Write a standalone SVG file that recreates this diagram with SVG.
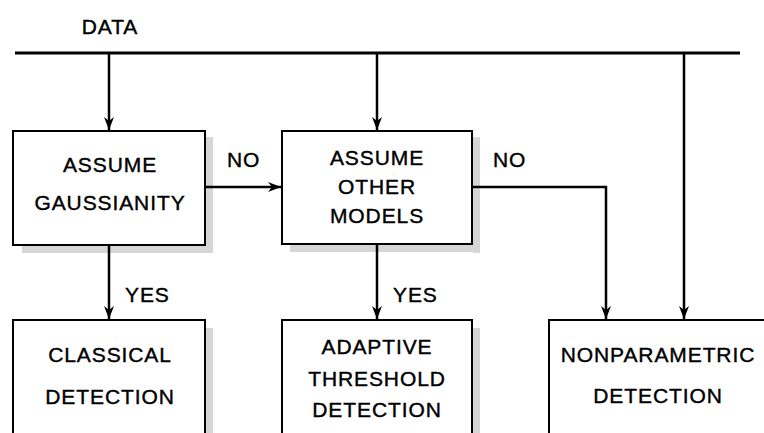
<svg xmlns="http://www.w3.org/2000/svg" width="764" height="433" viewBox="0 0 764 433">
  <defs>
    <style>
      .box { fill: #ffffff; stroke: #000000; stroke-width: 2; }
      .shadow { fill: #d6d6d6; }
      .conn { fill: none; stroke: #000000; stroke-width: 2.5; }
      .bus { fill: none; stroke: #000000; stroke-width: 3; }
      text { font-family: "Liberation Sans", Arial, sans-serif; font-size: 21px; fill: #000000; stroke: #000000; stroke-width: 0.4px; letter-spacing: 0.9px; }
      .c { text-anchor: middle; }
    </style>
    <marker id="arrow" markerUnits="userSpaceOnUse" markerWidth="16" markerHeight="14" viewBox="-14 -7 16 14" refX="0" refY="0" orient="auto">
      <path d="M0,0 L-13,-5 L-9,0 L-13,5 Z" fill="#000000"/>
    </marker>
  </defs>

  <text class="c" x="110" y="34">DATA</text>

  <g id="assume-gaussianity">
    <rect class="shadow" x="206" y="137" width="7" height="116"/>
    <rect class="shadow" x="22" y="246" width="191" height="7"/>
    <rect class="box" x="13" y="131" width="192" height="114"/>
    <text class="c" x="110" y="172">ASSUME</text>
    <text class="c" x="110" y="210">GAUSSIANITY</text>
  </g>

  <g id="assume-other-models">
    <rect class="shadow" x="473" y="137" width="7" height="116"/>
    <rect class="shadow" x="290" y="245" width="190" height="7"/>
    <rect class="box" x="282" y="131" width="190" height="113"/>
    <text class="c" x="377" y="165">ASSUME</text>
    <text class="c" x="377" y="194">OTHER</text>
    <text class="c" x="377" y="223">MODELS</text>
  </g>

  <g id="classical-detection">
    <rect class="shadow" x="206" y="328" width="7" height="110"/>
    <rect class="box" x="13" y="320" width="192" height="120"/>
    <text class="c" x="110" y="362">CLASSICAL</text>
    <text class="c" x="110" y="404">DETECTION</text>
  </g>

  <g id="adaptive-threshold-detection">
    <rect class="shadow" x="473" y="328" width="7" height="110"/>
    <rect class="box" x="282" y="320" width="190" height="120"/>
    <text class="c" x="377" y="354">ADAPTIVE</text>
    <text class="c" x="377" y="386">THRESHOLD</text>
    <text class="c" x="377" y="417">DETECTION</text>
  </g>

  <g id="nonparametric-detection">
    <rect class="box" x="549" y="320" width="222" height="120"/>
    <text class="c" x="658" y="362">NONPARAMETRIC</text>
    <text class="c" x="658" y="403">DETECTION</text>
  </g>

  <g id="connectors">
    <line class="bus" x1="15" y1="53" x2="740" y2="53"/>
    <line class="conn" x1="109" y1="53" x2="109" y2="130" marker-end="url(#arrow)"/>
    <line class="conn" x1="377" y1="53" x2="377" y2="130" marker-end="url(#arrow)"/>
    <line class="conn" x1="684" y1="53" x2="684" y2="319" marker-end="url(#arrow)"/>
    <line class="conn" x1="206" y1="187" x2="281" y2="187" marker-end="url(#arrow)"/>
    <polyline class="conn" points="473,187 606,187 606,319" marker-end="url(#arrow)"/>
    <line class="conn" x1="109" y1="246" x2="109" y2="319" marker-end="url(#arrow)"/>
    <line class="conn" x1="377" y1="245" x2="377" y2="319" marker-end="url(#arrow)"/>
    <text x="227" y="167">NO</text>
    <text x="493" y="167">NO</text>
    <text x="125" y="302">YES</text>
    <text x="393" y="302">YES</text>
  </g>
</svg>
